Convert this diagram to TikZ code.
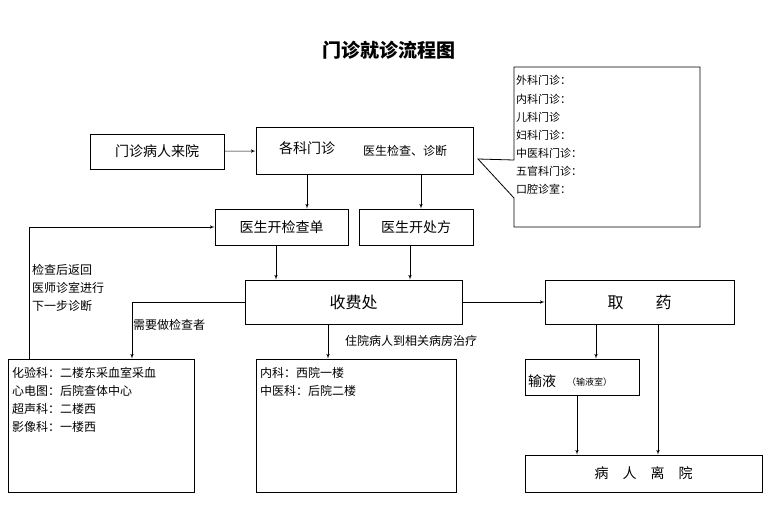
\documentclass[tikz,border=0pt]{standalone}
\usepackage{fontspec}
\setmainfont{Noto Sans CJK SC}
\usetikzlibrary{arrows}
\tikzstyle{line} = [draw, -latex', line width=0.6pt]
\tikzstyle{box} = [draw, line width=0.8pt, inner sep=0pt]
\tikzstyle{txt} = [inner sep=0pt, anchor=west, font=\fontsize{11}{11}\selectfont]

\begin{document}
\begin{tikzpicture}[x=1pt,y=-1pt]
		\useasboundingbox (0,0) rectangle (774,504);
		%title
		\node[font=\bfseries\fontsize{19}{19}\selectfont](title) at (389,50) {门诊就诊流程图};
		%boxes
		\node[box,minimum width=134,minimum height=35,font=\fontsize{14}{14}\selectfont](come) at (157,151.5) {门诊病人来院};
		\node[box,minimum width=217,minimum height=47](dept) at (364.5,150.5) {};
		\node[font=\fontsize{14}{14}\selectfont](deptA) at (307,148) {各科门诊};
		\node[font=\fontsize{12}{12}\selectfont](deptB) at (405,151) {医生检查、诊断};
		\node[box,minimum width=133,minimum height=36,font=\fontsize{14}{14}\selectfont](exam) at (281.5,227) {医生开检查单};
		\node[box,minimum width=114,minimum height=36,font=\fontsize{14}{14}\selectfont](presc) at (416,227) {医生开处方};
		\node[box,minimum width=217,minimum height=44,font=\fontsize{16}{16}\selectfont](pay) at (353.5,302) {收费处};
		\node[box,minimum width=189,minimum height=44,font=\fontsize{16}{16}\selectfont](drug) at (639.5,302) {取\hspace{2em}药};
		\node[box,minimum width=186,minimum height=133](lab) at (101,425.5) {};
		\node[box,minimum width=200,minimum height=133](ward) at (356,425.5) {};
		\node[box,minimum width=114,minimum height=36](drip) at (582,377) {};
		\node[txt,font=\fontsize{14}{14}\selectfont](dripA) at (528,381) {输液};
		\node[txt,font=\fontsize{9}{9}\selectfont](dripB) at (567,382) {（输液室）};
		\node[box,minimum width=237,minimum height=37,font=\fontsize{14}{14}\selectfont](leave) at (643.5,473.5) {病\hspace{1em}人\hspace{1em}离\hspace{1em}院};
		%callout
		\draw[line width=0.8pt] (514,160) -- (514,67) -- (700,67) -- (700,227) -- (514,227) -- (514,198) -- (478,159) -- cycle;
		\node[txt](c1) at (516,80) {外科门诊：};
		\node[txt](c2) at (516,99) {内科门诊：};
		\node[txt](c3) at (516,117) {儿科门诊};
		\node[txt](c4) at (516,135) {妇科门诊：};
		\node[txt](c5) at (516,153) {中医科门诊：};
		\node[txt](c6) at (516,171) {五官科门诊：};
		\node[txt](c7) at (516,189) {口腔诊室：};
		%box texts
		\node[txt,font=\fontsize{12}{12}\selectfont](l1) at (12,373) {化验科：二楼东采血室采血};
		\node[txt,font=\fontsize{12}{12}\selectfont](l2) at (12,391) {心电图：后院查体中心};
		\node[txt,font=\fontsize{12}{12}\selectfont](l3) at (12,409) {超声科：二楼西};
		\node[txt,font=\fontsize{12}{12}\selectfont](l4) at (12,427) {影像科：一楼西};
		\node[txt,font=\fontsize{12}{12}\selectfont](w1) at (260,373) {内科：西院一楼};
		\node[txt,font=\fontsize{12}{12}\selectfont](w2) at (260,391) {中医科：后院二楼};
		%labels
		\node[txt,font=\fontsize{12}{12}\selectfont](back1) at (32,270) {检查后返回};
		\node[txt,font=\fontsize{12}{12}\selectfont](back2) at (32,288) {医师诊室进行};
		\node[txt,font=\fontsize{12}{12}\selectfont](back3) at (32,306) {下一步诊断};
		\node[txt,font=\fontsize{12}{12}\selectfont](need) at (133,325) {需要做检查者};
		\node[txt,font=\fontsize{12}{12}\selectfont](stay) at (345,341) {住院病人到相关病房治疗};
		%arrows
		\path[line] (come) -- (dept);
		\path[line] (dept.south -| deptA) -- (exam.north -| deptA);
		\path[line] (dept.south -| 421,0) -- (presc.north -| 421,0);
		\path[line] (exam.south -| 276,0) -- (pay.north -| 276,0);
		\path[line] (presc.south -| 410,0) -- (pay.north -| 410,0);
		\path[line] (pay) -- (drug);
		\path[line] (pay.west) -| (lab.north -| 132,0);
		\path[line] (pay.south -| 328,0) -- (ward.north -| 328,0);
		\path[line] (drug.south -| 596,0) -- (drip.north -| 596,0);
		\path[line] (drug.south -| 658,0) -- (leave.north -| 658,0);
		\path[line] (drip.south -| 577,0) -- (leave.north -| 577,0);
		\path[line] (lab.north -| 29,0) |- (exam.west);
		\end{tikzpicture}
\end{document}
